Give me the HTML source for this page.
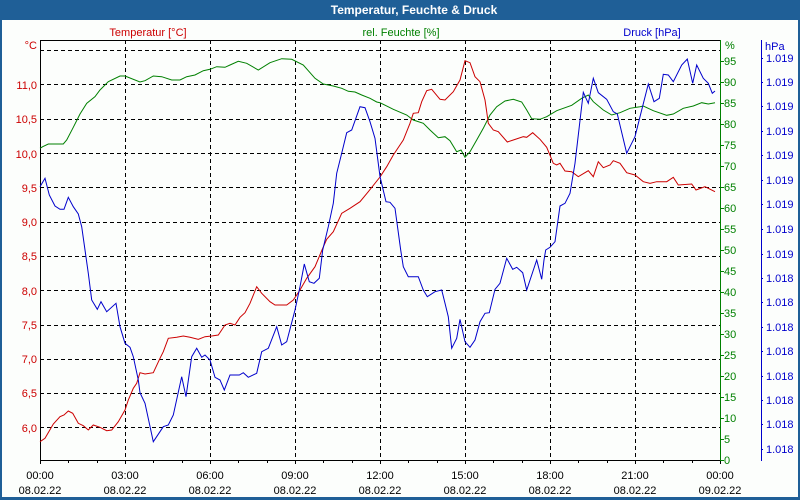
<!DOCTYPE html>
<html><head><meta charset="utf-8"><style>
html,body{margin:0;padding:0;background:#fff;}
svg{display:block;}
text{font-family:"Liberation Sans",Tahoma,sans-serif;}
</style></head><body>
<svg width="800" height="500" viewBox="0 0 800 500" xmlns="http://www.w3.org/2000/svg">
<rect x="0" y="0" width="800" height="500" fill="#1f5f97"/>
<rect x="2" y="20" width="796" height="477" fill="#fcfefc"/>
<text x="414" y="14" text-anchor="middle" font-size="12" font-weight="bold" fill="#ffffff">Temperatur, Feuchte &amp; Druck</text>

<text x="148" y="36" text-anchor="middle" font-size="11" fill="#cc0000">Temperatur [°C]</text>
<text x="401" y="36" text-anchor="middle" font-size="11" fill="#008000">rel. Feuchte [%]</text>
<text x="652" y="36" text-anchor="middle" font-size="11" fill="#0000cc">Druck [hPa]</text>

<!-- grid -->
<g stroke="#000" stroke-width="1" stroke-dasharray="4 3" shape-rendering="crispEdges" fill="none">
<path d="M40 50.5H720M40 84.5H720M40 119.5H720M40 153.5H720M40 187.5H720M40 222.5H720M40 256.5H720M40 290.5H720M40 325.5H720M40 359.5H720M40 393.5H720M40 427.5H720"/>
<path d="M125.5 40V460M210.5 40V460M295.5 40V460M380.5 40V460M465.5 40V460M550.5 40V460M635.5 40V460"/>
</g>
<g stroke="#000" stroke-width="1" shape-rendering="crispEdges" fill="none">
<path d="M40 40.5H720M40.5 40V461M40 460.5H721"/>
<path d="M40.5 460V464M68.5 460V463M97.5 460V463M125.5 460V464M153.5 460V463M182.5 460V463M210.5 460V464M238.5 460V463M267.5 460V463M295.5 460V464M323.5 460V463M352.5 460V463M380.5 460V464M408.5 460V463M437.5 460V463M465.5 460V464M493.5 460V463M522.5 460V463M550.5 460V464M578.5 460V463M607.5 460V463M635.5 460V464M663.5 460V463M692.5 460V463M720.5 460V464"/>
</g>
<!-- green axis -->
<g stroke="#008000" stroke-width="1" shape-rendering="crispEdges" fill="none">
<path d="M720.5 40V461"/>
<path d="M720 61.5h4M720 82.5h4M720 103.5h4M720 124.5h4M720 145.5h4M720 166.5h4M720 187.5h4M720 208.5h4M720 229.5h4M720 250.5h4M720 271.5h4M720 292.5h4M720 313.5h4M720 334.5h4M720 355.5h4M720 376.5h4M720 397.5h4M720 418.5h4M720 439.5h4M720 460.5h4"/>
</g>
<!-- blue axis -->
<g stroke="#0000cc" stroke-width="1" shape-rendering="crispEdges" fill="none">
<path d="M761.5 40V461"/>
<path d="M761 58.5h2M761 82.5h2M761 106.5h2M761 131.5h2M761 155.5h2M761 180.5h2M761 204.5h2M761 229.5h2M761 254.5h2M761 278.5h2M761 302.5h2M761 327.5h2M761 351.5h2M761 376.5h2M761 400.5h2M761 424.5h2M761 449.5h2"/>
</g>

<!-- left labels -->
<g font-size="11" fill="#cc0000" text-anchor="end">
<text x="37" y="49">°C</text>
<text x="37" y="89">11,0</text>
<text x="37" y="123">10,5</text>
<text x="37" y="158">10,0</text>
<text x="37" y="192">9,5</text>
<text x="37" y="226">9,0</text>
<text x="37" y="260">8,5</text>
<text x="37" y="295">8,0</text>
<text x="37" y="329">7,5</text>
<text x="37" y="363">7,0</text>
<text x="37" y="397">6,5</text>
<text x="37" y="432">6,0</text>
</g>
<!-- green labels -->
<g font-size="11" fill="#008000">
<text x="725" y="49">%</text>
<text x="724" y="65">95</text>
<text x="724" y="86">90</text>
<text x="724" y="107">85</text>
<text x="724" y="128">80</text>
<text x="724" y="149">75</text>
<text x="724" y="170">70</text>
<text x="724" y="191">65</text>
<text x="724" y="212">60</text>
<text x="724" y="233">55</text>
<text x="724" y="254">50</text>
<text x="724" y="275">45</text>
<text x="724" y="296">40</text>
<text x="724" y="317">35</text>
<text x="724" y="338">30</text>
<text x="724" y="359">25</text>
<text x="724" y="380">20</text>
<text x="724" y="401">15</text>
<text x="724" y="422">10</text>
<text x="724" y="443">5</text>
<text x="724" y="464">0</text>
</g>
<!-- blue labels -->
<g font-size="11" fill="#0000cc">
<text x="765" y="50">hPa</text>
<text x="766" y="62">1.019</text>
<text x="766" y="86">1.019</text>
<text x="766" y="110">1.019</text>
<text x="766" y="135">1.019</text>
<text x="766" y="159">1.019</text>
<text x="766" y="184">1.019</text>
<text x="766" y="208">1.019</text>
<text x="766" y="233">1.019</text>
<text x="766" y="258">1.019</text>
<text x="766" y="282">1.018</text>
<text x="766" y="306">1.018</text>
<text x="766" y="331">1.018</text>
<text x="766" y="355">1.018</text>
<text x="766" y="380">1.018</text>
<text x="766" y="404">1.018</text>
<text x="766" y="428">1.018</text>
<text x="766" y="453">1.018</text>
</g>
<!-- x labels -->
<g font-size="11" fill="#000" text-anchor="middle">
<text x="40" y="479">00:00</text><text x="40" y="494">08.02.22</text>
<text x="125" y="479">03:00</text><text x="125" y="494">08.02.22</text>
<text x="210" y="479">06:00</text><text x="210" y="494">08.02.22</text>
<text x="295" y="479">09:00</text><text x="295" y="494">08.02.22</text>
<text x="380" y="479">12:00</text><text x="380" y="494">08.02.22</text>
<text x="465" y="479">15:00</text><text x="465" y="494">08.02.22</text>
<text x="550" y="479">18:00</text><text x="550" y="494">08.02.22</text>
<text x="635" y="479">21:00</text><text x="635" y="494">08.02.22</text>
<text x="720" y="479">00:00</text><text x="720" y="494">09.02.22</text>
</g>

<!-- humidity -->
<polyline fill="none" stroke="#008000" stroke-width="1" points="40,148.3 42.7,146.7 48.3,144 63.3,144 66.7,140 73.3,127.3 80,114 86.7,103.3 95,96.7 100,90 108.3,81.7 120,76 125,76 140,82 145,80.7 153.3,76 161.7,76.7 171.7,80 180,80 186.7,76.7 195,75 203.3,70.7 210,69.3 216.7,66.7 225,67.3 230,65 238.3,61.3 246.7,63.3 258.3,70 270,62.7 281.7,58.7 291.7,59.3 303.3,65 315,78.3 323.3,84 333.3,86 341.7,88.3 348.3,91.3 355,92 361.7,95 370,98.3 376.7,102 380,102.7 393.3,109.3 406.7,115 413.3,120 423.3,123.3 430,130 438.3,137.7 445,136.7 450,140.7 456.7,151.7 461,150 465,157.3 470,151.7 476.7,140 483.3,128.3 490,115 496.7,106.7 505,101 513.3,99.3 521.7,102 526.7,110 531.7,118.7 540,119.3 546.7,116.7 556.7,110.7 571.7,105.3 581.7,98.3 588.3,95 593.3,101.7 603.3,110 611.7,115 620,112.7 630,108.3 640,106.7 643.3,106 653.3,110.7 666.7,115.3 673.3,114 683.3,108.3 693.3,106 701.7,102.7 708.3,104 715,102.7"/>

<!-- temperature -->
<polyline fill="none" stroke="#cc0000" stroke-width="1" points="40,441.7 45,438.3 53.3,424 60,416.7 64,415 68.3,411 72.7,413.3 78.3,423.3 83.3,425.7 88.3,430 93.3,425 100,427.3 106.7,430.7 111.7,430 118.3,421.7 125,410 128.3,400 133.3,388.3 136.7,383.3 140,372.7 145,374 153.3,372.7 160,358.3 163.3,351.7 168.3,338.3 176.7,337.3 183.3,336 190,337.3 198.3,339.3 205,336.7 211.7,336 218.3,335 225,325 230,323.3 235,325 240,317.3 245,312.7 250,303.3 256.7,286.7 261.7,293.3 270,301.7 275,305 286.7,305 293.3,300 300,290 306.7,278.3 315,266.7 322.7,248.3 326.7,239.3 333.3,231.7 341.7,213.3 350,208.3 360,201.7 368.3,191.7 380,177 386.7,166.7 393.3,155 403.3,140 410,123.3 413.3,113.3 418.3,112.7 421.7,101.7 426.7,90.7 431.7,89.3 440,99.3 445,100 453.3,91.7 460,80 465,60.7 470,62.7 475,76.7 480,81.7 485,100 486.7,111.7 488.3,123.3 493.3,130 498.3,131.7 507.3,142 513.3,140 523.3,136.7 526.7,137.3 532.7,132.7 540,139.3 546.7,147.3 553.3,163.3 556.7,165 560,163.3 565,171 571.7,171.7 578.3,176.7 588.3,170.7 593.3,176.7 598.3,161.7 603.3,167.7 610,165 613.3,160.7 620,163.3 626.7,172.7 635,175 643.3,181.7 650,183.3 656.7,181.7 666.7,181.7 673.3,177.3 678.3,185 691.7,184 696,190 705,186.7 715,191.7"/>

<!-- pressure -->
<polyline fill="none" stroke="#0000cc" stroke-width="1" points="40,186.7 45,178.3 49.3,195 55,206 60,209.3 64,209.3 68.3,197.3 73.3,206.7 78.3,214 81.7,226.7 85,250 88.3,273.3 91.7,300 97.3,309.3 101,301.7 106.7,311.7 116,303.3 120,326.7 125,343.3 130,347.3 133.3,356.7 138.3,380 140,392.7 145,403.3 153.3,441.7 163.3,426.7 168.3,425 173.3,415 181.7,376.7 186,396.7 191.7,356.7 196.7,348.3 201.7,357.3 205,355 210,360 215,377.3 220,380 224.3,390 230,375 239.3,375 243.3,372.7 248.3,377.3 256.7,373.3 261.7,351.7 268.3,348.3 276.7,326.7 281.7,345 286.7,341.7 295,310 300,286.7 304.3,264 309.3,281.7 314,283.3 319.3,278.3 322.7,250 328.3,226.7 333.3,203.3 336.7,173.3 341.7,153.3 346.7,132.7 351.7,130 360,106.7 365,107.7 370,121.7 375,138.3 380,176.5 386,201.7 390,202.3 395,208.3 400.7,250 403.3,266.7 408.3,276.7 418.3,276.7 423.3,290 427.3,296.7 435,291.7 441.7,290 445,303.3 448.3,316.7 451.7,348.3 456.7,338.3 460,319.3 465,341.7 470,347.3 475,340 480,321.7 485,313.3 489.3,312.7 495,289.3 500,283.3 506.7,258.3 512.7,269.3 516.7,267.3 522.7,272.7 526.7,290 536.7,260 541.7,279.3 544,260 545.7,250 550,247.3 555,241.7 560,206 565,203.3 570,193.3 575,163.3 583.3,92.3 588.3,103.3 593.3,78.3 598.3,92.7 606.7,99.3 613.3,111.7 617.3,114 626.7,153.3 635,136.7 641.7,110 648.3,84 654,101.7 659.3,98.3 663.3,74.3 668.3,75 673.3,81.7 681.7,65 687.3,59 692.7,83.3 696.7,65 703.3,78.3 708.3,83.3 712.3,93.3 715,91"/>
</svg>
</body></html>
